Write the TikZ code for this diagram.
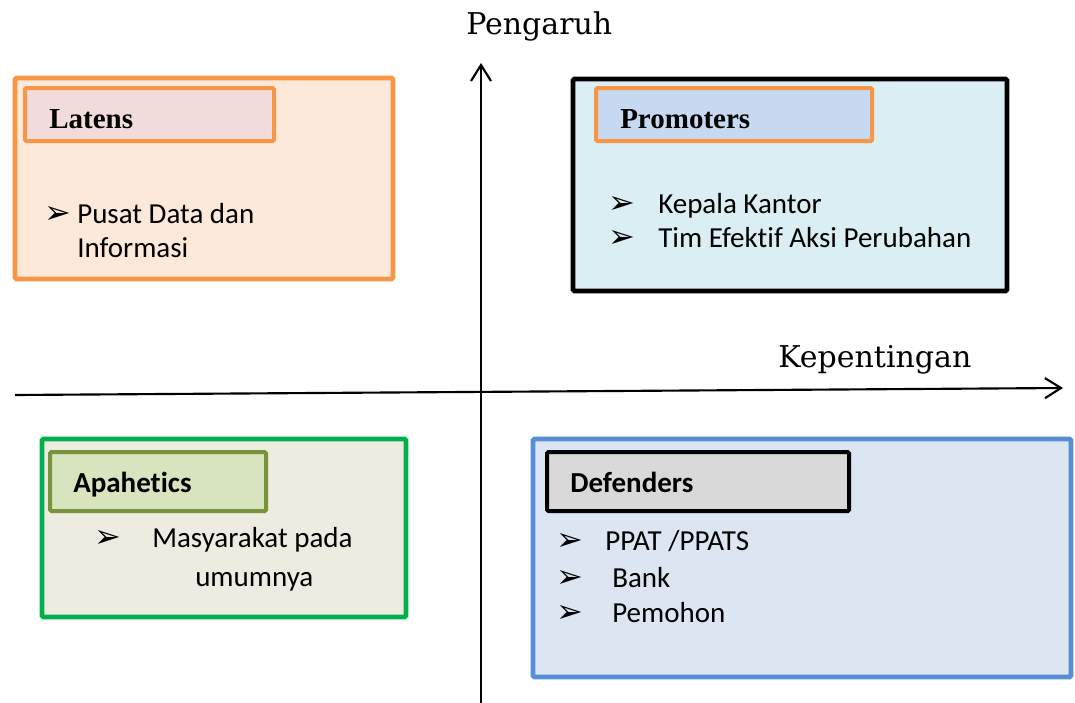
\documentclass[tikz,border=0pt]{standalone}
\usepackage{fontspec}
\setmainfont{Carlito}[Ligatures={NoCommon}]
\newfontfamily\headserif{Liberation Serif}
\newfontfamily\axisserif{DejaVu Serif}
\newfontfamily\symbfont{DejaVu Sans}
\usetikzlibrary{arrows.meta,fit}

\definecolor{orangeline}{HTML}{F79646}
\definecolor{latfill}{HTML}{FDE9D9}
\definecolor{lathead}{HTML}{F2DCDB}
\definecolor{profill}{HTML}{DAEEF3}
\definecolor{prohead}{HTML}{C6D9F1}
\definecolor{greenline}{HTML}{00B050}
\definecolor{apafill}{HTML}{EEECE1}
\definecolor{oliveline}{HTML}{77933C}
\definecolor{apahead}{HTML}{D7E4BD}
\definecolor{blueline}{HTML}{558ED5}
\definecolor{deffill}{HTML}{DCE6F2}
\definecolor{defhead}{HTML}{D9D9D9}

\begin{document}
\begin{tikzpicture}[x=0.75pt,y=-0.75pt,
  quadbox/.style={draw=#1, line width=3.4pt, rounded corners=1pt, inner sep=0pt},
  headbox/.style={draw=#1, line width=3pt, rounded corners=1pt, inner sep=0pt},
  item/.style={font=\fontsize{21.75}{26}\selectfont, anchor=base west, inner sep=0pt},
  bul/.style={font=\symbfont\fontsize{24}{28}\selectfont, anchor=base west, inner sep=0pt},
  serifhead/.style={font=\headserif\bfseries\fontsize{21.75}{26}\selectfont, anchor=base west, inner sep=0pt},
  sanshead/.style={font=\bfseries\fontsize{21.75}{26}\selectfont, anchor=base west, inner sep=0pt},
  axislabel/.style={font=\axisserif\fontsize{22.5}{27}\selectfont, anchor=base west, inner sep=0pt},
  axis/.style={line width=1.6pt, -{Straight Barb[length=12pt,width=15pt,line width=1.6pt]}}]
\useasboundingbox (0,0) rectangle (1075,703);

% corner points of the four quadrant boxes and their header boxes
\coordinate (lat1) at (15,78);   \coordinate (lat2) at (393,279);
\coordinate (lath1) at (25,88);  \coordinate (lath2) at (274,141);
\coordinate (pro1) at (573,79);  \coordinate (pro2) at (1007,291);
\coordinate (proh1) at (596,88); \coordinate (proh2) at (872,141);
\coordinate (apa1) at (42,439);  \coordinate (apa2) at (406,617);
\coordinate (apah1) at (50,452); \coordinate (apah2) at (266,511);
\coordinate (def1) at (533,439); \coordinate (def2) at (1071,677);
\coordinate (defh1) at (547,452);\coordinate (defh2) at (849,511);

% Latens
\node[quadbox=orangeline, fill=latfill, fit=(lat1)(lat2)] (latens) {};
\node[headbox=orangeline, fill=lathead, fit=(lath1)(lath2)] (latenshead) {};
\node[serifhead] (latenstitle) at (49,128) {Latens};
\node[bul] (latb1) at (44,223) {➢};
\node[item] (lati1) at (77,223) {Pusat Data dan};
\node[item] (lati2) at (77,257) {Informasi};

% Promoters
\node[quadbox=black, fill=profill, fit=(pro1)(pro2)] (promoters) {};
\node[headbox=orangeline, fill=prohead, fit=(proh1)(proh2)] (promotershead) {};
\node[serifhead] (promoterstitle) at (620,128) {Promoters};
\node[bul] (prob1) at (608,213) {➢};
\node[bul] (prob2) at (608,247) {➢};
\node[item] (proi1) at (658,213) {Kepala Kantor};
\node[item] (proi2) at (658,247) {Tim Efektif Aksi Perubahan};

% Apahetics
\node[quadbox=greenline, fill=apafill, fit=(apa1)(apa2)] (apahetics) {};
\node[headbox=oliveline, fill=apahead, fit=(apah1)(apah2)] (apaheticshead) {};
\node[sanshead] (apaheticstitle) at (73,492) {Apahetics};
\node[bul] (apab1) at (94,547) {➢};
\node[item] (apai1) at (152,547) {Masyarakat pada};
\node[item] (apai2) at (195,586) {umumnya};

% Defenders
\node[quadbox=blueline, fill=deffill, fit=(def1)(def2)] (defenders) {};
\node[headbox=black, fill=defhead, fit=(defh1)(defh2)] (defendershead) {};
\node[sanshead] (defenderstitle) at (570,492) {Defenders};
\node[bul] (defb1) at (556,550) {➢};
\node[bul] (defb2) at (556,587) {➢};
\node[bul] (defb3) at (556,622) {➢};
\node[item] (defi1) at (605,550) {PPAT /PPATS};
\node[item] (defi2) at (612,587) {Bank};
\node[item] (defi3) at (612,622) {Pemohon};

% axes
\coordinate (xleft) at (15,395);
\coordinate (xright) at (1063,388);
\coordinate (ybottom) at (481,703);
\coordinate (ytop) at (481,63);
\draw[axis] (xleft) -- (xright);
\draw[axis] (ybottom) -- (ytop);
\node[axislabel] (pengaruh) at (466,34) {Pengaruh};
\node[axislabel] (kepentingan) at (778,367) {Kepentingan};
\end{tikzpicture}
\end{document}
